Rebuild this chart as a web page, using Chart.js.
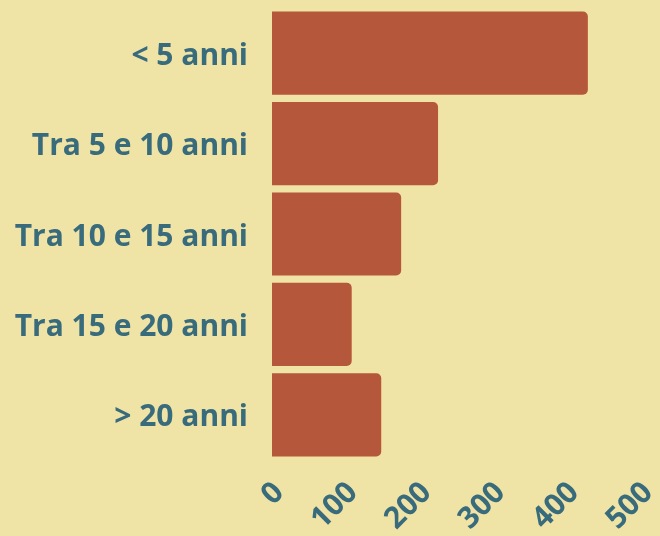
<!DOCTYPE html>
<html>
<head>
<meta charset="utf-8">
<script src="https://cdn.jsdelivr.net/npm/chart.js@4.4.0/dist/chart.umd.min.js"></script>
<style>
	html, body { margin: 0; padding: 0; background: #f0e3a6; }
	#wrap { width: 660px; height: 536px; }
</style>
</head>
<body>
<div id="wrap"><canvas id="chart" width="660" height="536"></canvas></div>
<script>
const categories = ["< 5 anni", "Tra 5 e 10 anni", "Tra 10 e 15 anni", "Tra 15 e 20 anni", "> 20 anni"];
const values = [428, 225, 175, 108, 148];
const xTicks = [0, 100, 200, 300, 400, 500];

const textColor = "#386b7b";
const fontFamily = "'Open Sans', 'Noto Sans', sans-serif";

const config = {
	type: "bar",
	data: {
		labels: categories,
		datasets: [
			{
				label: "Anni",
				data: values,
				backgroundColor: "#b5573a",
				borderRadius: 5,
				barPercentage: 0.92,
				categoryPercentage: 1,
			},
		],
	},
	options: {
		indexAxis: "y",
		responsive: false,
		animation: false,
		layout: {
			padding: { left: 0, right: 19, top: 8, bottom: 0 },
		},
		scales: {
			x: {
				min: 0,
				max: 500,
				afterBuildTicks: function (scale) {
					scale.ticks = xTicks.map(function (v) { return { value: v }; });
				},
				grid: { display: false },
				border: { display: false },
				ticks: {
					color: textColor,
					minRotation: 45,
					maxRotation: 45,
					padding: 7,
					labelOffset: 7,
					font: { family: fontFamily, size: 30, weight: "bold" },
				},
				afterFit: function (scale) {
					scale.height = 76;
					scale.paddingLeft = 0;
					scale.paddingRight = 0;
				},
			},
			y: {
				grid: { display: false },
				border: { display: false },
				ticks: {
					color: textColor,
					padding: 16,
					labelOffset: 3,
					font: { family: fontFamily, size: 30, weight: "bold" },
				},
				afterFit: function (scale) {
					scale.width = 272;
					scale.paddingTop = 0;
					scale.paddingBottom = 0;
				},
			},
		},
		plugins: {
			legend: { display: false },
			tooltip: { enabled: false },
		},
	},
};

const ctx = document.getElementById("chart").getContext("2d");
new Chart(ctx, config);
</script>
</body>
</html>
